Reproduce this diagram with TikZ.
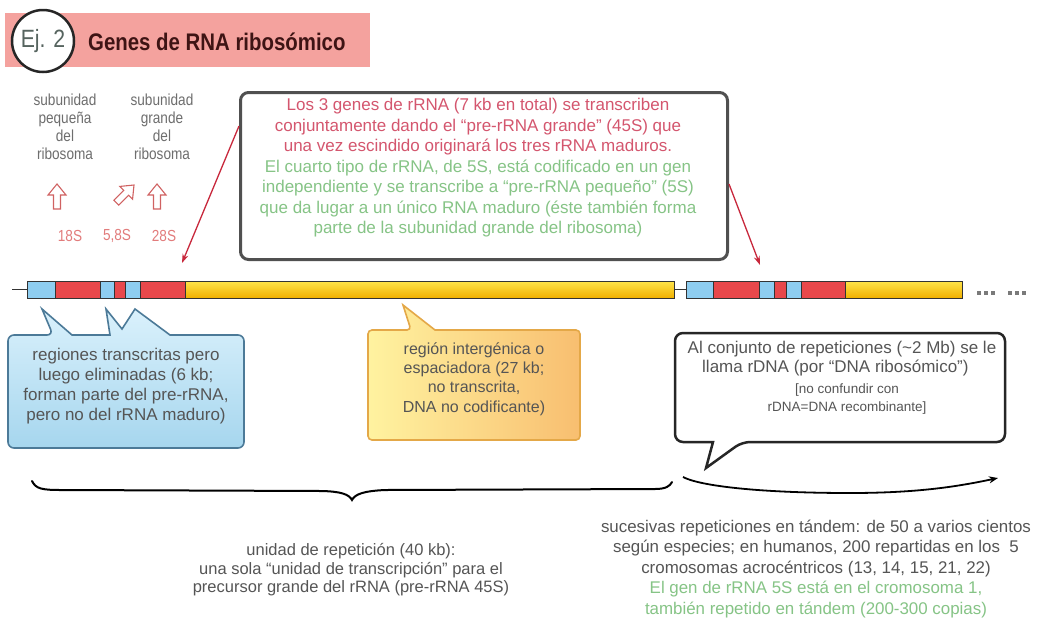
\documentclass[tikz,border=0pt]{standalone}
\usepackage{fontspec}
\setmainfont{Liberation Sans}
\newfontfamily\condfont{Liberation Sans}[FakeStretch=0.85]
\usetikzlibrary{arrows.meta,calc}
\definecolor{titlepink}{HTML}{F4A29E}
\definecolor{titletext}{HTML}{3E1414}
\definecolor{ejgray}{HTML}{56645F}
\definecolor{labelgray}{HTML}{6E6E6E}
\definecolor{arrowred}{HTML}{D06262}
\definecolor{slabel}{HTML}{E27C7C}
\definecolor{boxpink}{HTML}{D4566E}
\definecolor{boxgreen}{HTML}{86C486}
\definecolor{boxborder}{HTML}{505050}
\definecolor{linkred}{HTML}{C8283C}
\definecolor{barblue}{HTML}{8ECDF0}
\definecolor{barred}{HTML}{E8484B}
\definecolor{baryellowA}{HTML}{FFE44A}
\definecolor{baryellowB}{HTML}{F0B000}
\definecolor{blueA}{HTML}{DAF1FC}
\definecolor{blueB}{HTML}{A6D6EE}
\definecolor{blueedge}{HTML}{4C7A98}
\definecolor{yelA}{HTML}{FFF3A0}
\definecolor{yelB}{HTML}{F8BE70}
\definecolor{yeledge}{HTML}{E4A848}
\definecolor{textgray}{HTML}{555555}
\definecolor{dotgray}{HTML}{7A7A7A}
\begin{document}
\begin{tikzpicture}[x=1pt,y=-1pt,
  lbl/.style={text=labelgray, font=\condfont\fontsize{16}{18}\selectfont, align=center, inner sep=0},
  slbl/.style={text=slabel, font=\condfont\fontsize{16}{18}\selectfont, inner sep=0},
  boxtxt/.style={font=\fontsize{17}{20.5}\selectfont, align=center, inner sep=0},
  calltxt/.style={text=textgray, font=\fontsize{17}{20}\selectfont, align=center, inner sep=0},
  bottxt/.style={text=textgray, font=\fontsize{16.5}{18.5}\selectfont, align=center, inner sep=0},
  seg/.style={draw=black!80, line width=0.9},
  segyellow/.style={seg, top color=baryellowA, bottom color=baryellowB},
  segred/.style={seg, fill=barred},
  segblue/.style={seg, fill=barblue},
  link/.style={draw=linkred, line width=1.3, -{Stealth[length=9,width=6]}},
  hup/.pic={\draw[draw=arrowred, fill=white, line width=1.1, line join=miter]
      (0,0) -- (9,11) -- (3.5,11) -- (3.5,25) -- (-3.5,25) -- (-3.5,11) -- (-9,11) -- cycle;}
]
\useasboundingbox (0,0) rectangle (1038,630);
\fill[white] (0,0) rectangle (1038,630);

% title
\fill[titlepink] (5,13) rectangle (370,67);
\node[circle, draw=black!85, line width=2.5, fill=white, minimum size=62, inner sep=0,
      text=ejgray, font=\condfont\fontsize{25}{25}\selectfont] (ej) at (43,41) {Ej. 2};
\node[anchor=west, inner sep=0, text=titletext, font=\condfont\bfseries\fontsize{24}{24}\selectfont] (title) at (88,42) {Genes de RNA ribosómico};

% subunit labels
\node[lbl] (sp) at (65,127) {subunidad\\pequeña\\del\\ribosoma};
\node[lbl] (sg) at (162,127) {subunidad\\grande\\del\\ribosoma};
\pic at (57,184) {hup};
\pic[rotate=-45] at (134,185) {hup};
\pic at (157,184) {hup};
\node[slbl] (s18) at (70,236) {18S};
\node[slbl] (s58) at (117,236) {5,8S};
\node[slbl] (s28) at (164,236) {28S};

% central box
\node[draw=boxborder, line width=3, rounded corners=8, minimum width=487, minimum height=167, inner sep=0] (box) at (484,176) {};
\node[boxtxt] (boxt) at (478,168) {\textcolor{boxpink}{Los 3 genes de rRNA (7 kb en total) se transcriben}\\
\textcolor{boxpink}{conjuntamente dando el “pre-rRNA grande” (45S) que}\\
\textcolor{boxpink}{una vez escindido originará los tres rRNA maduros.}\\
\textcolor{boxgreen}{El cuarto tipo de rRNA, de 5S, está codificado en un gen}\\
\textcolor{boxgreen}{independiente y se transcribe a “pre-rRNA pequeño” (5S)}\\
\textcolor{boxgreen}{que da lugar a un único RNA maduro (éste también forma}\\
\textcolor{boxgreen}{parte de la subunidad grande del ribosoma)}};

% DNA bar, first repeat
\draw[black!80, line width=1] (12,289.5) -- (27,289.5);
\path[segblue] (27,281) rectangle (55,298);
\path[segred] (55,281) rectangle (100,298);
\path[segblue] (100,281) rectangle (114,298);
\path[segred] (114,281) rectangle (125,298);
\path[segblue] (125,281) rectangle (140,298);
\path[segred] (140,281) rectangle (185,298);
\path[segyellow] (185,281) rectangle (674,298);
\draw[black!80, line width=1] (674,289.5) -- (686,289.5);
% second repeat
\path[segblue] (686,281) rectangle (713,298);
\path[segred] (713,281) rectangle (759,298);
\path[segblue] (759,281) rectangle (774,298);
\path[segred] (774,281) rectangle (786,298);
\path[segblue] (786,281) rectangle (801,298);
\path[segred] (801,281) rectangle (845,298);
\path[segyellow] (845,281) rectangle (962,298);
\foreach \x in {979,986,993,1010,1017,1024} \fill[dotgray] (\x-2.3,290.5) rectangle (\x+2.3,295);

% red links
\coordinate (t1) at (182,263);
\coordinate (t2) at (760,265);
\draw[link] ([yshift=50]box.west) -- (t1);
\draw[link] ([yshift=-8]box.east) -- (t2);

% blue callout
\draw[draw=blueedge, line width=1.6, top color=blueA, bottom color=blueB]
  (244,400) [rounded corners=6] -- (244,448) -- (8,448) -- (8,335) -- (53,335) [sharp corners] -- (42,309) -- (72,335) -- (110,335) -- (106,309) -- (122,329) -- (135,309) -- (170,335) [rounded corners=6] -- (244,335) -- cycle;
\node[calltxt] (bt) at (126,386) {regiones transcritas pero\\luego eliminadas (6 kb;\\forman parte del pre-rRNA,\\pero no del rRNA maduro)};

% yellow callout
\draw[draw=yeledge, line width=1.6, left color=yelA, right color=yelB]
  (580,400) [rounded corners=4] -- (580,440) -- (368,440) -- (368,330) -- (411,330) [sharp corners] -- (403,305) -- (435,330) [rounded corners=4] -- (580,330) -- cycle;
\node[calltxt, font=\fontsize{16}{19.3}\selectfont] (yt) at (474,379) {región intergénica o\\espaciadora (27 kb;\\no transcrita,\\DNA no codificante)};

% white callout
\draw[draw=black!85, line width=2.5, fill=white]
  (1005,400) [rounded corners=8] -- (1005,442) -- (742,442) [sharp corners] -- (706,468) -- (713,442) [rounded corners=8] -- (675,442) -- (675,333) -- (1005,333) -- cycle;
\node[calltxt, anchor=center] (wt1) at (842,349) {Al conjunto de repeticiones (\textasciitilde2 Mb) se le};
\node[calltxt, anchor=west] (wt2) at (702,368) {llama rDNA (por “DNA ribosómico”)};
\node[calltxt, font=\fontsize{13.5}{18.5}\selectfont] (wt3) at (847,399) {[no confundir con\\rDNA=DNA recombinante]};

% brace under first repeat
\coordinate (bl) at (32,481);
\coordinate (bm) at (352,500);
\coordinate (br) at (672,482);
\draw[black, line width=2, line cap=round]
  (bl) .. controls (36,489) and (42,490) .. (62,490) -- (322,491)
  .. controls (340,491.5) and (349,494) .. (bm)
  .. controls (355,494) and (364,491) .. (385,490) -- (655,489)
  .. controls (666,489) and (670,486) .. (br);
\coordinate (as) at (683,477);
\coordinate (ae) at (998,478);
\draw[black, line width=1.8, -{Stealth[length=9,width=7]}]
  (as) .. controls (700,486) and (760,493) .. (850,493) .. controls (920,493) and (960,486) .. (ae);

% bottom texts
\node[bottxt] (ut) at (351,570) {unidad de repetición (40 kb):\\una sola “unidad de transcripción” para el\\precursor grande del rRNA (pre-rRNA 45S)};
\node[bottxt, font=\fontsize{16.9}{20.5}\selectfont] (rt) at (816,569) {sucesivas repeticiones en tándem: de 50 a varios cientos\\según especies; en humanos, 200 repartidas en los\ \ 5\\cromosomas acrocéntricos (13, 14, 15, 21, 22)\\\textcolor{boxgreen}{El gen de rRNA 5S está en el cromosoma 1,}\\\textcolor{boxgreen}{también repetido en tándem (200-300 copias)}};
\end{tikzpicture}
\end{document}
